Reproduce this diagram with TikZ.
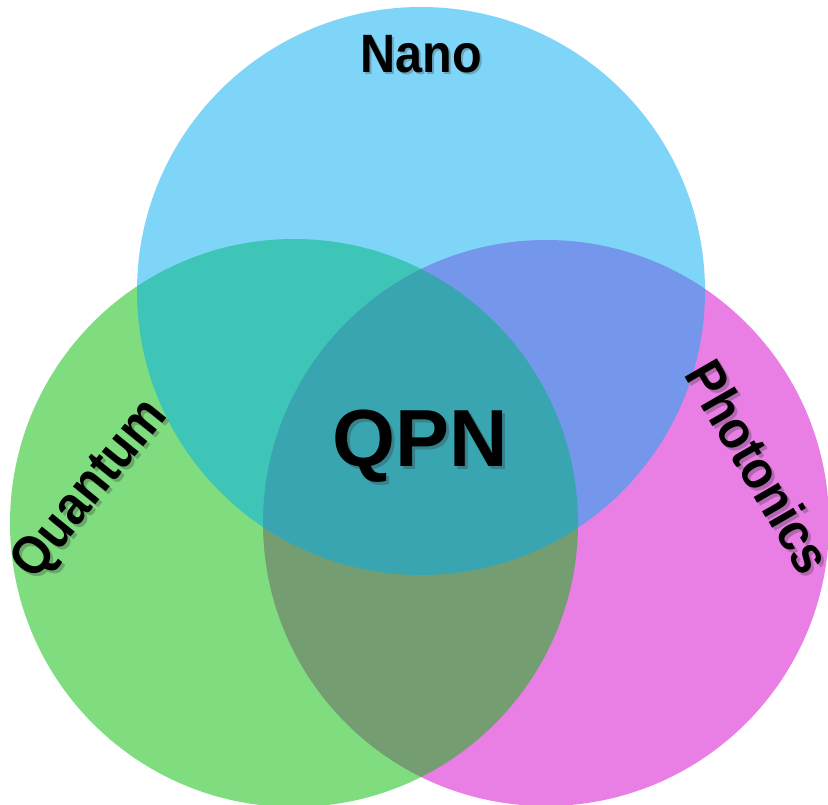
\documentclass[tikz,border=0pt]{standalone}
\usepackage{fontspec}
\setmainfont{Liberation Sans}
\definecolor{cgreen}{RGB}{0,189,0}
\definecolor{cblue}{RGB}{0,173,241}
\definecolor{cmag}{RGB}{213,0,205}
\tikzset{
  circ/.style={fill opacity=0.5, draw=none},
  lbl/.style={inner sep=0pt, font=\bfseries\fontsize{54}{60}\selectfont, text=black},
  big/.style={inner sep=0pt, font=\bfseries\fontsize{81}{90}\selectfont, text=black},
  shad/.style={text opacity=0.3, text=black!80}
}
\begin{document}
\begin{tikzpicture}[x=1pt,y=-1pt]
\useasboundingbox (0,0) rectangle (828,805);
\clip (0,0) rectangle (828,805);
\fill[white] (0,0) rectangle (828,805);
\fill[circ, fill=cmag] (546,523) circle[radius=283];
\fill[circ, fill=cgreen] (294,523) circle[radius=284];
\fill[circ, fill=cblue] (421,291) circle[radius=284];
% shadows
\node[lbl, shad, xscale=0.9] (nanoS) at (423.5,56.5) {Nano};
\node[lbl, shad, rotate=51, xscale=0.9] (quantS) at (94,493) {Quantum};
\node[lbl, shad, rotate=-60, xscale=0.9] (photS) at (762,470) {Photonics};
\node[big, shad] (qpnS) at (423,449) {QPN};
% labels
\node[lbl, xscale=0.9] (nano) at (421,54) {Nano};
\node[lbl, rotate=51, xscale=0.9] (quant) at (91,490) {Quantum};
\node[lbl, rotate=-60, xscale=0.9] (phot) at (759,467) {Photonics};
\node[big] (qpn) at (420,446) {QPN};
\end{tikzpicture}
\end{document}
